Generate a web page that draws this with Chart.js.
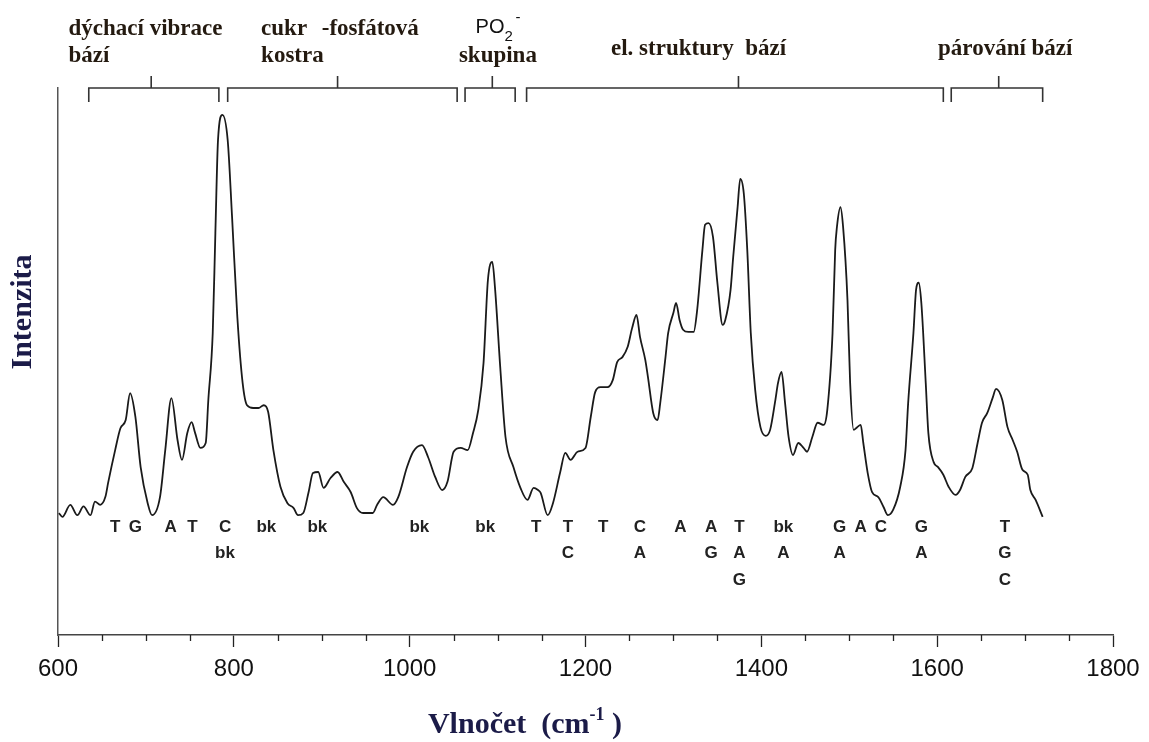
<!DOCTYPE html>
<html><head><meta charset="utf-8">
<script src="https://cdn.jsdelivr.net/npm/chart.js@4.4.1/dist/chart.umd.min.js"></script>
<style>html,body{margin:0;background:#fff;}canvas{display:block;}</style>
</head><body>
<canvas id="spec" width="1149" height="742"></canvas>
<script>
const wavenumbers=[
601,605,614,622,629,637,642,648,654,657,
665,671,677,682,688,694,702,707,716,722,
729,736,741,747,752,756,762,768,771,776,
779,782,787,793,798,804,810,815,822,828,
834,839,845,853,861,868,873,879,885,890,
896,902,910,918,925,933,940,947,958,963,
970,981,987,997,1004,1014,1021,1029,1037,1043,
1050,1058,1066,1072,1078,1084,1089,1094,1097,1103,
1109,1118,1126,1134,1141,1146,1149,1157,1163,1171,
1177,1183,1191,1200,1206,1211,1217,1225,1231,1236,
1242,1248,1253,1258,1262,1268,1271,1277,1282,1285,
1291,1294,1300,1303,1307,1311,1317,1323,1327,1333,
1336,1340,1345,1350,1356,1359,1365,1368,1373,1376,
1380,1384,1388,1393,1399,1405,1410,1416,1419,1423,
1427,1431,1436,1442,1448,1452,1458,1464,1471,1475,
1481,1484,1486,1490,1493,1498,1501,1505,1509,1513,
1516,1521,1526,1533,1539,1544,1550,1558,1564,1567,
1573,1576,1579,1582,1587,1590,1596,1601,1607,1613,
1621,1626,1632,1640,1646,1651,1657,1663,1667,1674,
1680,1686,1691,1697,1703,1706,1712,1720];
const intensity=[
22.3,21.6,23.8,21.9,23.5,21.9,24.4,23.8,25.3,27.8,
33.8,37.8,39.3,44.2,39.9,30.7,24.1,21.9,25.2,33.8,
43.3,35.6,32.0,36.9,38.9,36.9,34.2,35.1,43.0,55.2,
73.5,90.5,95.1,90.5,76.4,58.1,46.1,42.0,41.5,41.5,
42.0,40.8,33.8,27.1,24.1,23.2,21.9,22.3,26.1,29.6,
29.8,26.9,28.7,29.8,28.0,26.1,23.2,22.3,22.3,23.8,
25.2,23.8,25.2,30.7,33.5,34.7,32.5,28.9,26.5,28.0,
33.5,34.2,33.8,36.9,41.1,49.7,64.9,68.2,63.6,49.0,
36.2,30.7,26.9,24.7,26.9,26.5,26.0,21.9,24.1,29.6,
33.3,32.0,33.5,34.2,39.9,44.4,45.3,45.3,46.6,49.9,
50.8,52.7,56.1,58.5,54.5,50.3,47.2,40.6,39.3,42.4,
50.8,55.2,58.9,60.7,57.6,55.8,55.4,55.4,59.4,70.4,
75.0,75.3,72.8,64.4,56.7,57.6,63.1,69.1,78.2,83.4,
80.8,70.4,55.2,44.8,38.0,36.4,37.5,43.0,46.1,48.1,
42.4,36.2,32.9,35.1,34.2,33.5,36.2,38.8,38.4,41.1,
55.2,70.4,74.6,78.2,74.6,61.2,46.1,37.5,38.0,38.4,
35.1,29.6,26.1,25.2,23.4,21.9,22.9,27.1,33.8,42.4,
55.2,63.1,64.4,60.7,46.1,36.9,31.6,30.7,29.3,27.1,
25.6,26.5,28.9,30.5,35.1,38.8,40.6,43.3,45.0,43.0,
38.0,35.6,33.5,30.2,29.3,26.5,24.7,21.6];

// base assignments under the peaks
const tagPos=[665,688,728,753,790,837,895,1011,1086,1144,1180,1220,1262,1308,1343,1375,1425,1489,1513,1536,1582,1677];
const tagText=[['T'],['G'],['A'],['T'],['C','bk'],['bk'],['bk'],['bk'],['bk'],['T'],['T','C'],['T'],['C','A'],['A'],['A','G'],['T','A','G'],['bk','A'],['G','A'],['A'],['C'],['G','A'],['T','G','C']];
const tagLevel=19.7;

// region brackets on top
const groupStart=[635,793,1063,1133,1616];
const groupEnd=[783,1054,1120,1607,1720];
const groupMid=[706,918,1094,1374,1670];
const headText=['dýchací vibrace','bází','cukr','-fosfátová','kostra','skupina','el. struktury  bází','párování bází'];
const headAt=[612,612,831,900,831,1056,1229,1601];
const headRow=[0,1,0,0,1,1,0.75,0.75];

const serif='"Liberation Serif","Times New Roman",serif';
const sans='"Liberation Sans",Arial,sans-serif';

const decor={id:'decor',
  afterDraw(chart){
    const {ctx,scales:{x,y},chartArea:a}=chart;
    ctx.save();
    ctx.strokeStyle='#222';ctx.lineWidth=1.3;
    x.ticks.forEach(t=>{
      if(t.value%200){const px=Math.round(x.getPixelForValue(t.value))+.5;
        ctx.beginPath();ctx.moveTo(px,a.bottom);ctx.lineTo(px,a.bottom+6);ctx.stroke();}
    });
    ctx.strokeStyle='#333';ctx.lineWidth=1.6;
    groupStart.forEach((s,i)=>{
      const l=x.getPixelForValue(s),r=x.getPixelForValue(groupEnd[i]),m=x.getPixelForValue(groupMid[i]);
      ctx.beginPath();
      ctx.moveTo(l,a.top+14);ctx.lineTo(l,a.top);ctx.lineTo(r,a.top);ctx.lineTo(r,a.top+14);
      ctx.moveTo(m,a.top);ctx.lineTo(m,a.top-12);
      ctx.stroke();
    });
    ctx.fillStyle='#241a10';ctx.textAlign='left';ctx.textBaseline='alphabetic';
    ctx.font='bold 23px '+serif;
    headText.forEach((s,i)=>ctx.fillText(s,x.getPixelForValue(headAt[i]),35+headRow[i]*27));
    const po=x.getPixelForValue(1075);
    ctx.fillStyle='#111';ctx.font='20px '+sans;
    ctx.fillText('PO',po,33);
    const pw=ctx.measureText('PO').width;
    ctx.font='15px '+sans;
    ctx.fillText('2',po+pw,41);
    ctx.fillText('-',po+pw+11,22);

    ctx.fillStyle='#222';ctx.textAlign='center';ctx.textBaseline='middle';
    ctx.font='bold 17px '+sans;
    const y0=y.getPixelForValue(tagLevel);
    tagPos.forEach((p,i)=>tagText[i].forEach((s,k)=>ctx.fillText(s,x.getPixelForValue(p),y0+k*26.5)));

    ctx.fillStyle='#1b1b48';
    ctx.save();ctx.translate(23,312);ctx.rotate(-Math.PI/2);
    ctx.font='bold 30px '+serif;ctx.fillText('Intenzita',0,0);
    ctx.restore();

    ctx.textAlign='left';ctx.textBaseline='alphabetic';
    const f1='bold 30px '+serif,f2='bold 18px '+serif;
    const p1='Vlnočet  (cm',p2='-1',p3=' )';
    ctx.font=f1;const w1=ctx.measureText(p1).width,w3=ctx.measureText(p3).width;
    ctx.font=f2;const w2=ctx.measureText(p2).width;
    let tx=525-(w1+w2+w3)/2;
    ctx.font=f1;ctx.fillText(p1,tx,733);tx+=w1;
    ctx.font=f2;ctx.fillText(p2,tx,720);tx+=w2;
    ctx.font=f1;ctx.fillText(p3,tx,733);
    ctx.restore();
  }
};

new Chart(document.getElementById('spec'),{
  type:'line',
  data:{datasets:[{data:wavenumbers.map((v,i)=>({x:v,y:intensity[i]})),borderColor:'#1a1a1a',borderWidth:1.8,pointRadius:0,cubicInterpolationMode:'monotone',fill:false}]},
  options:{responsive:false,animation:false,devicePixelRatio:1,
    layout:{padding:{top:88,right:36,left:0,bottom:0}},
    plugins:{legend:{display:false},tooltip:{enabled:false}},
    scales:{
      x:{type:'linear',min:600,max:1800,
        afterFit:s=>{s.height=107;},
        ticks:{stepSize:50,autoSkip:false,maxRotation:0,padding:8,color:'#111',font:{family:sans,size:24},callback:v=>v%200?'':String(v)},
        grid:{drawOnChartArea:false,tickLength:12,tickWidth:1.3,tickColor:c=>(c.tick&&c.tick.value%200)?'rgba(0,0,0,0)':'#222'},
        border:{display:true,color:'#444',width:1.5}},
      y:{min:0,max:100,afterFit:s=>{s.width=58;},
        ticks:{display:false},grid:{display:false},
        border:{display:true,color:'#555',width:1.5}}
    }},
  plugins:[decor]
});
</script>
</body></html>
